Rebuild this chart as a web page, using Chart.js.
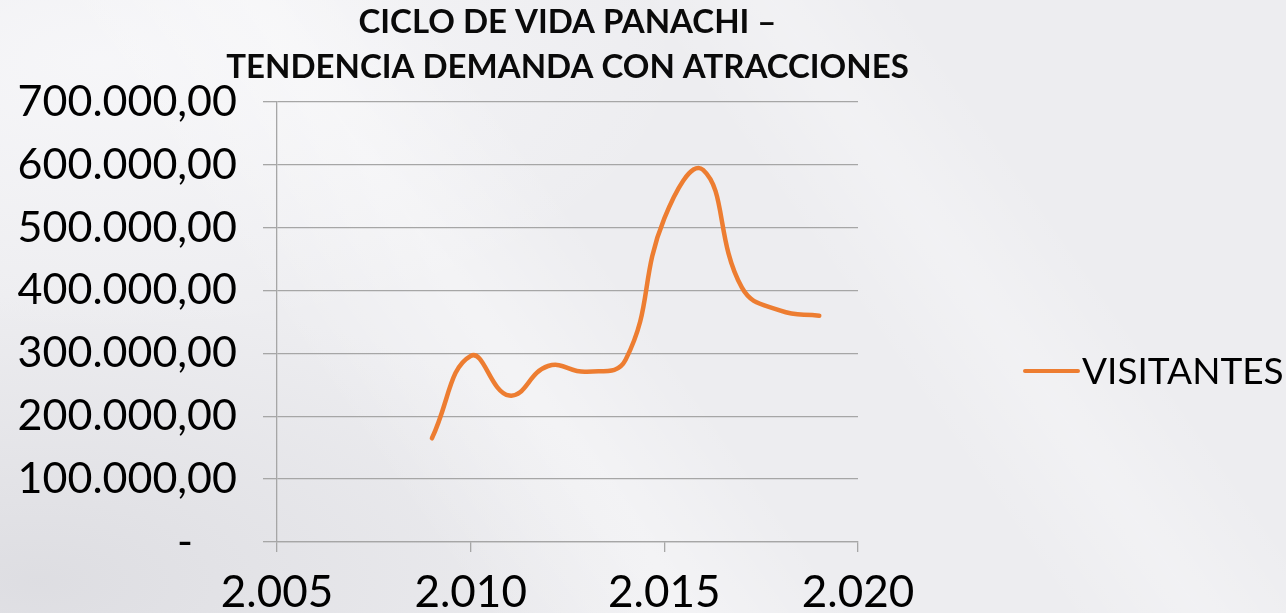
<!DOCTYPE html>
<html>
<head>
<meta charset="utf-8">
<script src="https://cdn.jsdelivr.net/npm/chart.js@4/dist/chart.umd.min.js"></script>
<style>
  html, body { margin: 0; padding: 0; }
  body {
    width: 1286px; height: 613px; overflow: hidden;
    background:
      linear-gradient(55deg, rgba(255,255,255,0) 28%, rgba(255,255,255,0.35) 40%, rgba(255,255,255,0) 50%),
      linear-gradient(55deg, rgba(255,255,255,0) 62%, rgba(255,255,255,0.25) 70%, rgba(255,255,255,0) 78%),
      radial-gradient(ellipse at 3% 95%, rgba(215,215,220,0.7), rgba(215,215,220,0) 35%),
      radial-gradient(ellipse at 8% 10%, rgba(250,250,252,0.7), rgba(250,250,252,0) 35%),
      #ededf0;
  }
  #wrap { position: relative; width: 1286px; height: 613px; }
</style>
</head>
<body>
<div id="wrap"><canvas id="cicloChart"></canvas></div>
<script>
// datos
const years = [2009, 2010, 2011, 2012, 2013, 2014, 2015, 2016, 2017, 2018, 2019];
const visitantes = [165000, 296000, 233000, 280000, 271000, 290000, 515000, 592000, 405000, 368000, 360000];
const titleLines = ['CICLO DE VIDA PANACHI –', 'TENDENCIA DEMANDA CON ATRACCIONES'];
const seriesName = 'VISITANTES';

const ORANGE = '#ED7D31';
const GRID = '#a6a6a6';

// formato español: miles con punto, decimales con coma
function fmtNum(n, dec) {
  const parts = n.toFixed(dec).split('.');
  const ent = parts[0].replace(/\B(?=(\d{3})+(?!\d))/g, '.');
  return dec ? ent + ',' + parts[1] : ent;
}

// el título es más ancho que el área del gráfico: ensanchar su caja sin mover el centro
const widenTitle = {
  id: 'widenTitle',
  afterLayout(chart) {
    const t = chart.titleBlock;
    if (!t) return;
    t.left -= 80;
    t.right += 80;
    t.width = t.right - t.left;
  }
};

// leyenda a la derecha, como en Excel
const sideLegend = {
  id: 'sideLegend',
  afterDraw(chart) {
    const { ctx, chartArea } = chart;
    const ds = chart.data.datasets[0];
    const x0 = chartArea.right + 167, y = 371;
    ctx.save();
    ctx.strokeStyle = ds.borderColor;
    ctx.lineWidth = 4;
    ctx.lineCap = 'round';
    ctx.beginPath();
    ctx.moveTo(x0, y);
    ctx.lineTo(x0 + 53, y);
    ctx.stroke();
    ctx.fillStyle = '#000';
    ctx.font = '37px Lato';
    ctx.textBaseline = 'middle';
    ctx.fillText(ds.label, x0 + 57, y + 1);
    ctx.restore();
  }
};

new Chart(document.getElementById('cicloChart'), {
  type: 'scatter',
  data: {
    datasets: [{
      label: seriesName,
      data: years.map((y, i) => ({ x: y, y: visitantes[i] })),
      showLine: true,
      borderColor: ORANGE,
      backgroundColor: ORANGE,
      borderWidth: 4.5,
      borderCapStyle: 'round',
      tension: 0.45,
      pointRadius: 0,
      pointHoverRadius: 0
    }]
  },
  options: {
    responsive: true,
    maintainAspectRatio: false,
    animation: false,
    layout: { padding: { left: 0, right: 428, top: 0, bottom: 0 } },
    plugins: {
      legend: { display: false },
      tooltip: { enabled: false },
      title: {
        display: true,
        fullSize: false,
        text: titleLines,
        color: '#0a0a0a',
        font: { family: 'Lato', weight: 'bold', size: 33, lineHeight: 1.364 },
        padding: { top: 0, bottom: 12 }
      }
    },
    scales: {
      x: {
        type: 'linear',
        min: 2005, max: 2020,
        ticks: {
          stepSize: 5,
          color: '#000',
          font: { family: 'Lato', size: 44 },
          padding: 14,
          callback: v => fmtNum(v, 0)
        },
        grid: { drawOnChartArea: false, drawTicks: true, tickLength: 10, color: GRID, lineWidth: 1.3 },
        border: { display: true, color: GRID, width: 1.3 },
        afterFit: s => { s.height = 71; }
      },
      y: {
        min: 0, max: 700000,
        ticks: {
          stepSize: 100000,
          color: '#000',
          font: { family: 'Lato', size: 43 },
          padding: 26,
          callback: v => v === 0 ? '-    ' : fmtNum(v, 2)
        },
        grid: { color: GRID, lineWidth: 1.3, tickLength: 14 },
        border: { display: true, color: GRID, width: 1.3 },
        afterFit: s => { s.width = 277; }
      }
    }
  },
  plugins: [widenTitle, sideLegend]
});
</script>
</body>
</html>
